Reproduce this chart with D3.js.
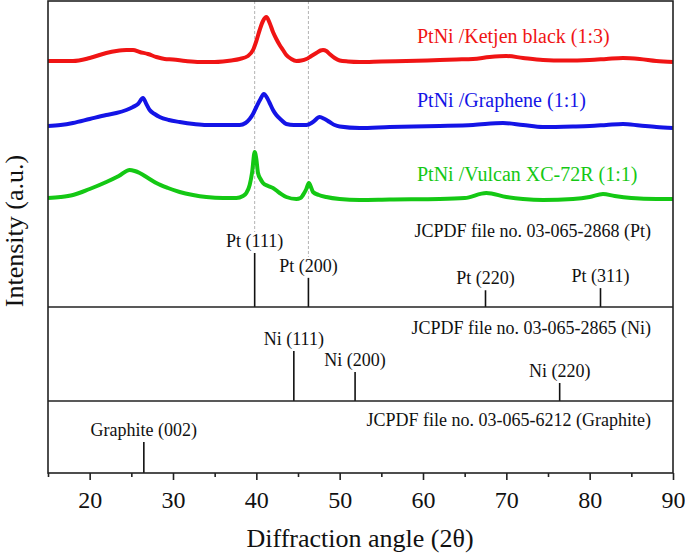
<!DOCTYPE html>
<html>
<head>
<meta charset="utf-8">
<script src="https://cdn.jsdelivr.net/npm/d3@7"></script>
<style>
  body { margin: 0; background: #fff; }
  text { font-family: "Liberation Serif", "Times New Roman", serif; }
</style>
</head>
<body>
<svg width="685" height="559"></svg>
<script>
// measured XRD traces: [2theta, intensity (a.u., already stacked)]
const ketjen = [[15,246],[16.5,246],[18,246],[20,249],[22,254],[23.2,256],[24.4,257],[25.2,257],[26,255],[27,253],[28,250],[29,248],[30,247.5],[31.5,246],[33.2,245],[35,245],[36,245.5],[37,246.5],[38,248],[39,251],[39.6,257],[40,266],[40.4,277],[40.8,286],[41.2,290],[41.6,284],[42,275],[42.4,268],[42.8,262],[43.2,257],[43.6,252],[44.2,248],[44.8,246],[45.4,246.5],[46,248],[46.6,251],[47.2,254],[47.7,256.5],[48,257],[48.4,256],[48.8,253],[49.4,249],[50,246.5],[51,245.5],[52.4,245],[55,245.5],[58,246],[62,247],[64,247.5],[66,248],[68,250],[70,251],[72,249],[74.4,247],[77,246.5],[80,247],[82,248],[84,249],[86,248],[88,246],[90,245]];
const graphene = [[15,181],[16.5,182],[18,184],[20,188],[22,192],[23.2,194],[24.4,197],[25.2,200],[25.8,203],[26.4,209],[26.8,203],[27.2,197],[27.8,193],[28.4,190],[29.5,187],[30.8,185],[32.5,183],[34,182],[36,182],[38,182],[38.7,184],[39.2,188],[39.6,193],[40,200],[40.5,208],[40.9,213],[41.3,209],[41.6,204],[42,197],[42.4,192],[43,187],[43.6,183],[44.5,182],[46,182],[46.8,185],[47.6,190],[48.2,188],[48.8,185],[49.4,182],[50,180.5],[52.4,179],[56,180],[62,181],[66,182],[69.6,184],[72,182],[74.4,180],[78,180.5],[80,181],[82,182],[84,183],[86,181.5],[88,180],[90,179]];
const vulcan = [[15,109],[16.5,110],[18,112],[20,118],[22,125],[23.5,131],[24.8,137],[25.4,136],[26,134],[27,129],[28,124],[29.4,119],[30.8,115],[32.4,112],[34,110],[36,109],[37.6,109],[38.4,111],[38.8,114],[39.2,122],[39.5,135],[39.8,155],[40,148],[40.2,134],[40.5,128],[40.8,124],[41.4,121],[42,119],[42.8,114],[43.6,110],[44.8,108],[45.3,109],[45.6,112],[46,118],[46.3,124],[46.6,119],[46.8,115],[47.5,112],[48.4,110],[50,108],[52.4,107],[56,107.5],[62,108],[65,109],[67.6,114],[70,110],[72,108],[74.4,107],[78,108],[80,110],[81.6,113],[83,111],[85,109],[88,108],[90,108]];

const seriesNames = ["PtNi /Ketjen black (1:3)", "PtNi /Graphene (1:1)", "PtNi /Vulcan XC-72R (1:1)"];
const seriesColors = ["#f01414", "#1414e6", "#14c814"];
const seriesData = [ketjen, graphene, vulcan];

// reference patterns (relative intensity)
const ptAngles = [39.8, 46.25, 67.5, 81.3];
const ptInt = [100, 54, 31, 35];
const ptLabels = ["Pt (111)", "Pt (200)", "Pt (220)", "Pt (311)"];
const niAngles = [44.5, 51.85, 76.4];
const niInt = [100, 58, 36];
const niLabels = ["Ni (111)", "Ni (200)", "Ni (220)"];
const grAngles = [26.5];
const grInt = [100];
const grLabels = ["Graphite (002)"];
const cardLabels = ["JCPDF file no. 03-065-2868 (Pt)", "JCPDF file no. 03-065-2865 (Ni)", "JCPDF file no. 03-065-6212 (Graphite)"];

const pLeft = 48, pRight = 673, pTop = 1, pBottom = 473;
const div1 = 307, div2 = 401;

const svg = d3.select("svg");

const x = d3.scaleLinear().domain([15, 90]).range([pLeft, pRight]);
const yTop = d3.scaleLinear().domain([0, 306]).range([div1, pTop]);
const yPt = d3.scaleLinear().domain([0, 100]).range([div1, 253]);
const yNi = d3.scaleLinear().domain([0, 100]).range([div2, 351]);
const yGr = d3.scaleLinear().domain([0, 100]).range([pBottom, 442]);

// dashed guide lines for Pt(111), Pt(200)
svg.selectAll("line.guide")
  .data([0, 1])
  .join("line")
  .attr("class", "guide")
  .attr("x1", (i) => x(ptAngles[i]))
  .attr("x2", (i) => x(ptAngles[i]))
  .attr("y1", pTop)
  .attr("y2", (i) => yPt(ptInt[i]) - 21)
  .style("stroke", "#b4b4b4")
  .style("stroke-width", 1)
  .style("stroke-dasharray", "3,2");

// XRD traces
const line = d3.line()
  .x((d) => x(d[0]))
  .y((d) => yTop(d[1]))
  .curve(d3.curveMonotoneX);

svg.selectAll("path.trace")
  .data(seriesData)
  .join("path")
  .attr("class", "trace")
  .attr("d", line)
  .style("fill", "none")
  .style("stroke", (d, i) => seriesColors[i])
  .style("stroke-width", 4)
  .style("stroke-linejoin", "round");

const labelBase = [43, 107, 181];
svg.selectAll("text.series")
  .data(seriesNames)
  .join("text")
  .attr("class", "series")
  .attr("x", 417)
  .attr("y", (d, i) => labelBase[i])
  .style("font-size", "20px")
  .style("fill", (d, i) => seriesColors[i])
  .text((d) => d);

// stick patterns
function sticks(angles, ints, labels, yScale) {
  const g = svg.append("g");
  g.selectAll("line")
    .data(angles)
    .join("line")
    .attr("x1", (d) => x(d))
    .attr("x2", (d) => x(d))
    .attr("y1", yScale(0))
    .attr("y2", (d, i) => yScale(ints[i]))
    .style("stroke", "#111")
    .style("stroke-width", 1.6);
  g.selectAll("text")
    .data(labels)
    .join("text")
    .attr("x", (d, i) => x(angles[i]))
    .attr("y", (d, i) => yScale(ints[i]) - 6)
    .attr("text-anchor", "middle")
    .style("font-size", "18px")
    .style("fill", "#111")
    .text((d) => d);
}
sticks(ptAngles, ptInt, ptLabels, yPt);
sticks(niAngles, niInt, niLabels, yNi);
sticks(grAngles, grInt, grLabels, yGr);

const cardBase = [237, 334, 426];
svg.selectAll("text.card")
  .data(cardLabels)
  .join("text")
  .attr("class", "card")
  .attr("x", 651)
  .attr("y", (d, i) => cardBase[i])
  .attr("text-anchor", "end")
  .style("font-size", "18px")
  .style("fill", "#111")
  .text((d) => d);

// panel dividers and frame
svg.selectAll("line.div")
  .data([div1, div2])
  .join("line")
  .attr("class", "div")
  .attr("x1", pLeft).attr("x2", pRight)
  .attr("y1", (d) => d).attr("y2", (d) => d)
  .style("stroke", "#222")
  .style("stroke-width", 1.6);

svg.append("rect")
  .attr("x", pLeft).attr("y", pTop)
  .attr("width", pRight - pLeft).attr("height", pBottom - pTop)
  .style("fill", "none")
  .style("stroke", "#222")
  .style("stroke-width", 1.6);

// x axis
const xMajor = svg.append("g")
  .attr("transform", `translate(0,${pBottom})`)
  .call(d3.axisBottom(x).tickValues(d3.range(20, 91, 10)).tickSize(7).tickFormat(d3.format("d")));
const xMinor = svg.append("g")
  .attr("transform", `translate(0,${pBottom})`)
  .call(d3.axisBottom(x).tickValues(d3.range(15, 90, 10)).tickSize(4).tickFormat(""));
[xMajor, xMinor].forEach((g) => {
  g.select(".domain").remove();
  g.selectAll(".tick line").style("stroke", "#222").style("stroke-width", 1.6);
});
xMajor.selectAll(".tick text")
  .attr("y", 35)
  .attr("dy", 0)
  .style("font-size", "24px")
  .style("font-family", "Liberation Serif, serif")
  .style("fill", "#111");

svg.append("text")
  .attr("x", 360)
  .attr("y", 547)
  .attr("text-anchor", "middle")
  .style("font-size", "26px")
  .style("fill", "#111")
  .text("Diffraction angle (2θ)");

svg.append("text")
  .attr("transform", "translate(23,231) rotate(-90)")
  .attr("text-anchor", "middle")
  .style("font-size", "26px")
  .style("fill", "#111")
  .text("Intensity (a.u.)");
</script>
</body>
</html>
